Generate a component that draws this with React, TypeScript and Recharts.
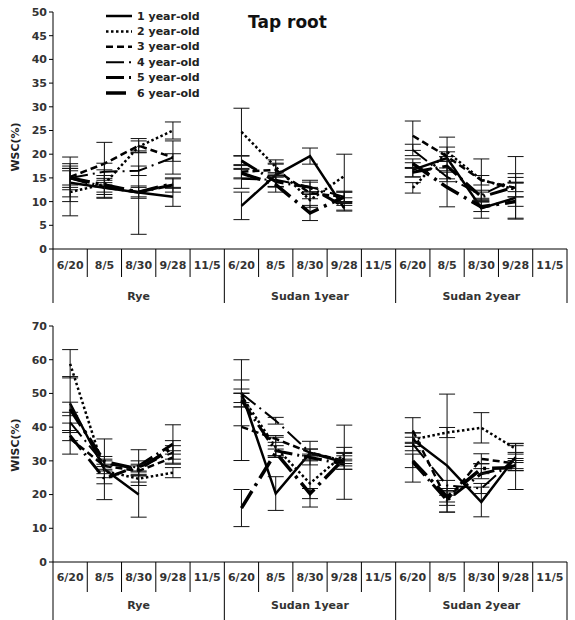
import { LineChart, Line, XAxis, YAxis, ErrorBar, Legend } from "recharts"

type Err = number | [number, number] | null

const groups = ["Rye", "Sudan 1year", "Sudan 2year"]
const dates = ["6/20", "8/5", "8/30", "9/28", "11/5"]
const seriesNames = ["1 year-old", "2 year-old", "3 year-old", "4 year-old", "5 year-old", "6 year-old"]

const topTicks = [0, 5, 10, 15, 20, 25, 30, 35, 40, 45, 50]
const bottomTicks = [0, 10, 20, 30, 40, 50, 60, 70]

// top panel: 6/20, 8/5, 8/30, 9/28 for Rye, Sudan 1year, Sudan 2year (11/5 has no sample)
const top1 = [14, 12.9, 11.9, 11, 9.1, 15.6, 19.6, 8.6, 16.7, 19.2, 8.6, 10.8]
const top2 = [12, 13.7, 21.6, 25, 24.7, 17.3, 10.3, 15.4, 12.9, 20.5, 14.6, 12.5]
const top3 = [15.2, 18, 21.8, 19.3, 16.3, 16.7, 11.8, 11, 23.9, 19.5, 14.5, 12.9]
const top4 = [15, 16.3, 16.5, 19.3, 14.8, 14.6, 13.1, 11, 20.9, 15.2, 11.4, 14.9]
const top5 = [15, 13, 12, 13.5, 18.6, 14.2, 13, 8.9, 16.2, 17.5, 11, 13.1]
const top6 = [15, 13.5, 12, 13.8, 16, 13.6, 7.6, 11, 18, 13, 8.9, 10]

const topErr1: Err[] = [4, 2, 8.8, 2, 2.9, 2.5, 1.7, 0.6, 1.5, 4.4, 2.1, 4.3]
const topErr2: Err[] = [5, 3, 1.2, 1.8, 5, 1.5, 1.5, 4.6, 1.1, 1, 4.4, 1.5]
const topErr3: Err[] = [4.2, 4.5, 1.5, 3.5, 1.5, 1.2, 1.2, 1, 3.1, 1, 1, 6.6]
const topErr4: Err[] = [2.5, 1.8, 1, 0.8, 2, 1.5, 1, 1, 1.2, 1, 1, 1]
const topErr5: Err[] = [1.5, 1, 1.3, 1.5, 1, 1, 1.5, 0.7, 1, 1, 1, 1]
const topErr6: Err[] = [2, 2, 1, 1, 1, 1.6, 1.6, 1.2, 1, 4.1, 1, 1]

// bottom panel
const bot1 = [47, 27.5, 20, null, 50.2, 20.3, 32.3, 29.6, 36.3, 28.6, 17.8, 31.1]
const bot2 = [58.8, 27, 24.7, 26.5, 49.3, 34, 23.3, 32, 36.3, 38.4, 39.8, 33.6]
const bot3 = [36.6, 28.5, 27, 31, 40.1, 36.5, 32.5, 30, 39, 18.3, 30.6, 29.2]
const bot4 = [41.4, 29, 28, 32.5, 50, 41.9, 32.5, 30, 35, 22.7, 21.8, 31]
const bot5 = [37.5, 24.7, 28.5, 35, 48, 33, 31, 29, 29.6, 18.3, 26.2, 28.6]
const bot6 = [45.4, 29.8, 27.5, 34, 16, 32.5, 20.3, 30.7, 30, 19.3, 27.7, 28]

const botErr1: Err[] = [8, 9, 6.7, null, 9.8, 5, 3.5, 11, 2, [13.8, 21.2], 4.4, 4]
const botErr2: Err[] = [4.2, 2, 1, 1.5, 2, 3, 7, 2, 2, 1.5, 4.5, 1.6]
const botErr3: Err[] = [4.6, 1.5, 1.5, 2, 10, 1, 1, 2.5, 3.8, 3.5, 1.5, 1.5]
const botErr4: Err[] = [3, 1.5, 5.3, 2, 4, 1, 1, 1.5, 2, 1.5, 1.5, 1.5]
const botErr5: Err[] = [1.5, 1.5, 1.5, 5.7, 2, 1.5, 1, 1.5, 5.9, 1.5, 1.5, 1.5]
const botErr6: Err[] = [2, 1.5, 1.5, 2, 5.5, 1, 1.5, 1.5, 2, 1.5, 1.5, 6.5]

const FONT = "'DejaVu Sans', sans-serif"
const W = 575
const PLOT_LEFT = 53
const PLOT_RIGHT = 8
const BAND = (W - PLOT_LEFT - PLOT_RIGHT) / 15

const lineStyles = [
  { dash: undefined, width: 2.5 },
  { dash: "2.5 2.5", width: 2.5 },
  { dash: "7 4", width: 2.5 },
  { dash: "18 5 2 5", width: 2 },
  { dash: "18 5 2 5", width: 3 },
  { dash: "20 6 3 6", width: 3.5 },
]

function buildRows(values: (number | null)[][], errors: Err[][]) {
  const rows: Record<string, any>[] = []
  groups.forEach((g, gi) => {
    dates.forEach((d, di) => {
      const row: Record<string, any> = { key: `${g}-${d}`, date: d }
      values.forEach((arr, si) => {
        row[`s${si}`] = di < 4 ? arr[gi * 4 + di] : null
        row[`e${si}`] = di < 4 && row[`s${si}`] != null ? errors[si][gi * 4 + di] : null
      })
      rows.push(row)
    })
  })
  return rows
}

const topData = buildRows([top1, top2, top3, top4, top5, top6], [topErr1, topErr2, topErr3, topErr4, topErr5, topErr6])
const bottomData = buildRows([bot1, bot2, bot3, bot4, bot5, bot6], [botErr1, botErr2, botErr3, botErr4, botErr5, botErr6])

function makeTick(axisY: number, labelDy: number, groupDy: number, innerLen: number, outerLen: number) {
  return (props: any) => {
    const { x } = props
    const i: number = props.index ?? props.payload?.index ?? 0
    const di = i % 5
    const left = x - BAND / 2
    const textStyle = { fontFamily: FONT, fontSize: 11, fontWeight: "bold" as const, fill: "#333" }
    return (
      <g>
        <line x1={left} x2={left} y1={axisY} y2={axisY + (di === 0 ? outerLen : innerLen)} stroke="#000" />
        {i === 14 && <line x1={x + BAND / 2} x2={x + BAND / 2} y1={axisY} y2={axisY + outerLen} stroke="#000" />}
        <text x={x} y={axisY + labelDy} textAnchor="middle" dominantBaseline="central" {...textStyle}>
          {dates[di]}
        </text>
        {di === 2 && (
          <text x={x} y={axisY + groupDy} textAnchor="middle" dominantBaseline="central" {...textStyle}>
            {groups[Math.floor(i / 5)]}
          </text>
        )}
      </g>
    )
  }
}

function LegendBox() {
  return (
    <svg width={120} height={100}>
      {seriesNames.map((name, i) => (
        <g key={name}>
          <line
            x1={6}
            x2={32}
            y1={10 + i * 15.4}
            y2={10 + i * 15.4}
            stroke="#000"
            strokeWidth={lineStyles[i].width}
            strokeDasharray={lineStyles[i].dash}
          />
          <text
            x={37}
            y={10 + i * 15.4}
            dominantBaseline="central"
            fontFamily={FONT}
            fontSize={11}
            fontWeight="bold"
            fill="#222"
          >
            {name}
          </text>
        </g>
      ))}
    </svg>
  )
}

function Panel({ data, ticks, max, top, axisY, height, labelDy, groupDy, innerLen, outerLen, yTitle, yTitleY, legend }: any) {
  return (
    <LineChart width={W} height={height} data={data} margin={{ top, right: PLOT_RIGHT, left: 13, bottom: 0 }}>
      <XAxis
        dataKey="key"
        interval={0}
        tickLine={false}
        axisLine={{ stroke: "#000" }}
        height={height - axisY}
        padding={{ left: BAND / 2, right: BAND / 2 }}
        tick={makeTick(axisY, labelDy, groupDy, innerLen, outerLen)}
      />
      <YAxis
        domain={[0, max]}
        ticks={ticks}
        interval={0}
        width={40}
        tickSize={4}
        allowDataOverflow
        axisLine={{ stroke: "#000" }}
        tickLine={{ stroke: "#000" }}
        tick={{ fontFamily: FONT, fontSize: 11, fontWeight: "bold", fill: "#333" }}
        label={() => (
          <text
            transform={`translate(15, ${yTitleY}) rotate(-90)`}
            textAnchor="middle"
            dominantBaseline="central"
            fontFamily={FONT}
            fontSize={11}
            fontWeight="bold"
            fill="#222"
          >
            {yTitle}
          </text>
        )}
      />
      {legend && (
        <Legend
          layout="vertical"
          align="center"
          verticalAlign="middle"
          wrapperStyle={{ position: "absolute", left: 100, top: 6, width: 120 }}
          content={() => <LegendBox />}
        />
      )}
      {seriesNames.map((name, i) => (
        <Line
          key={name}
          name={name}
          dataKey={`s${i}`}
          stroke="#000"
          strokeWidth={lineStyles[i].width}
          strokeDasharray={lineStyles[i].dash}
          dot={false}
          activeDot={false}
          connectNulls={false}
          isAnimationActive={false}
        >
          <ErrorBar dataKey={`e${i}`} width={8} stroke="#111" strokeWidth={1} direction="y" isAnimationActive={false} />
        </Line>
      ))}
    </LineChart>
  )
}

export default function App() {
  return (
    <div style={{ position: "absolute", left: 0, top: 0, width: W, height: 620, background: "#fff" }}>
      <Panel
        data={topData}
        ticks={topTicks}
        max={50}
        top={12}
        axisY={249}
        height={310}
        labelDy={16}
        groupDy={47}
        innerLen={28}
        outerLen={54}
        yTitle="WSC(%)"
        yTitleY={147}
        legend
      />
      <Panel
        data={bottomData}
        ticks={bottomTicks}
        max={70}
        top={16}
        axisY={252}
        height={310}
        labelDy={15}
        groupDy={43}
        innerLen={30}
        outerLen={58}
        yTitle="WISC(%)"
        yTitleY={135}
      />
      <div
        style={{
          position: "absolute",
          left: 0,
          top: 11,
          width: W,
          textAlign: "center",
          fontFamily: FONT,
          fontSize: 17,
          fontWeight: "bold",
          lineHeight: "22px",
          color: "#111",
        }}
      >
        Tap root
      </div>
    </div>
  )
}
